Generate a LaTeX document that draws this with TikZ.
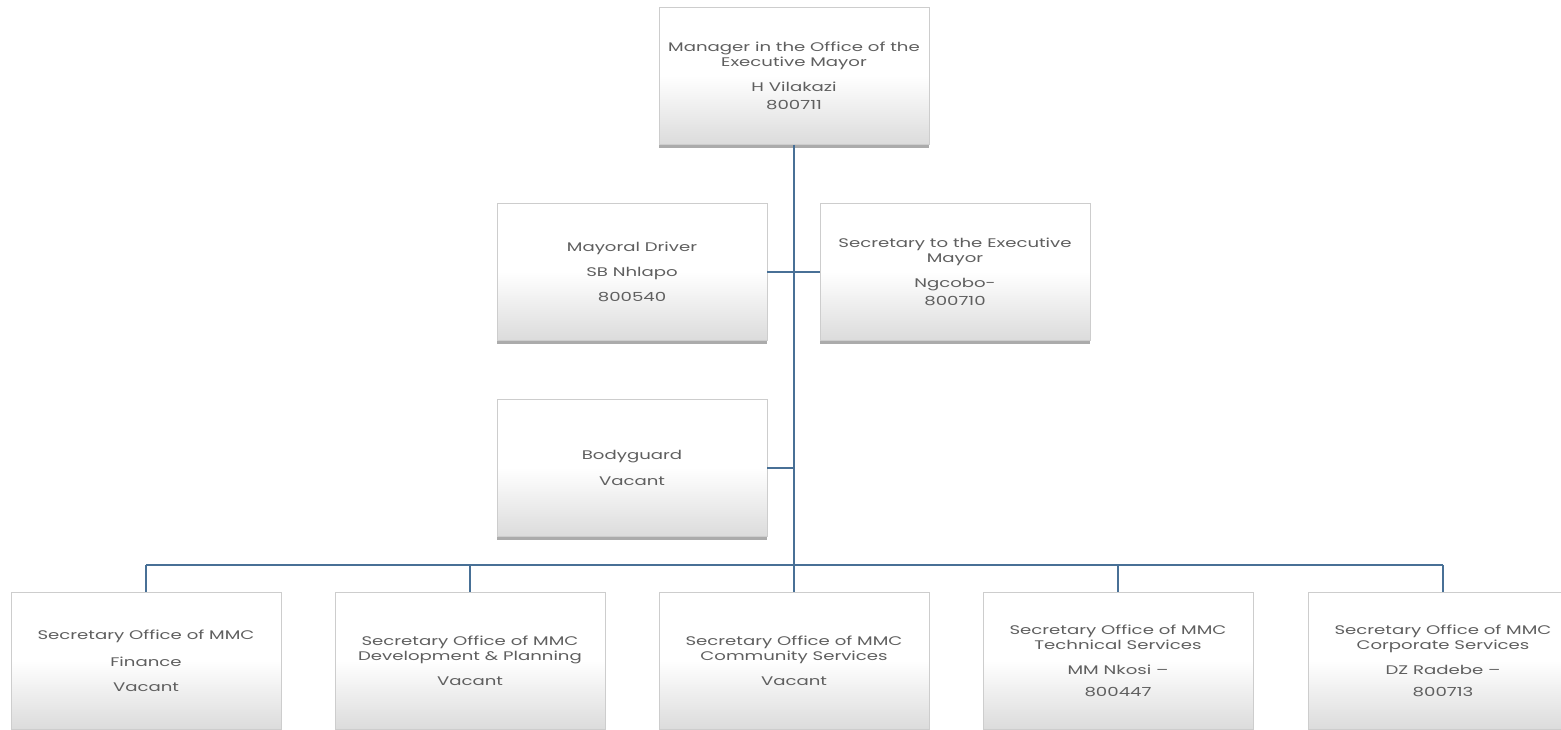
\documentclass[tikz,border=0pt]{standalone}
\usepackage{fontspec}
\setmainfont{Poppins}[FakeStretch=1.45]
\usetikzlibrary{shadows}
\definecolor{linkblue}{RGB}{72,112,150}
\definecolor{boxedge}{RGB}{205,205,205}
\definecolor{txtgray}{RGB}{95,95,95}
\tikzset{
  orgbox/.style={draw=boxedge, line width=0.6pt, top color=white, bottom color=black!14,
    middle color=white, shading angle=0,
    minimum width=270pt, minimum height=137pt, inner sep=2pt,
    align=center, text=txtgray, font=\fontsize{12.5}{15}\selectfont,
    drop shadow={shadow xshift=0pt, shadow yshift=-3.5pt, opacity=0.55, fill=black!60}},
  link/.style={draw=linkblue, line width=1.1pt}
}
\begin{document}
\begin{tikzpicture}[x=1pt, y=-1pt]
\useasboundingbox (0,0) rectangle (1561,729);
\fill[white] (0,0) rectangle (1561,729);
% top position
\node[orgbox] (top) at (794,76) {Manager in the Office of the\\Executive Mayor\\[10pt]H Vilakazi\\[3pt]800711};
% staff reporting directly
\node[orgbox] (driver) at (632,272) {Mayoral Driver\\[10pt]SB Nhlapo\\[10pt]800540};
\node[orgbox] (sec) at (955,272) {Secretary to the Executive\\Mayor\\[10pt]Ngcobo-\\[3pt]800710};
\node[orgbox] (guard) at (632,468) {Bodyguard\\[11pt]Vacant};
% MMC secretaries
\node[orgbox] (b1) at (146,661) {Secretary Office of MMC\\[12pt]Finance\\[10pt]Vacant};
\node[orgbox] (b2) at (470,661) {Secretary Office of MMC\\Development \& Planning\\[10pt]Vacant};
\node[orgbox] (b3) at (794,661) {Secretary Office of MMC\\Community Services\\[10pt]Vacant};
\node[orgbox] (b4) at (1118,661) {Secretary Office of MMC\\Technical Services\\[10pt]MM Nkosi –\\[7pt]800447};
\node[orgbox] (b5) at (1443,661) {Secretary Office of MMC\\Corporate Services\\[10pt]DZ Radebe –\\[7pt]800713};
% connectors
\coordinate (bus) at (794,565);
\draw[link] (top.south) -- (bus);
\draw[link] (driver.east) -- (sec.west);
\draw[link] (guard.east) -- (guard.east -| top.south);
\draw[link] (b1.north |- bus) -- (b5.north |- bus);
\foreach \b in {b1,b2,b3,b4,b5}
  \draw[link] (\b.north |- bus) -- (\b.north);
\end{tikzpicture}
\end{document}
